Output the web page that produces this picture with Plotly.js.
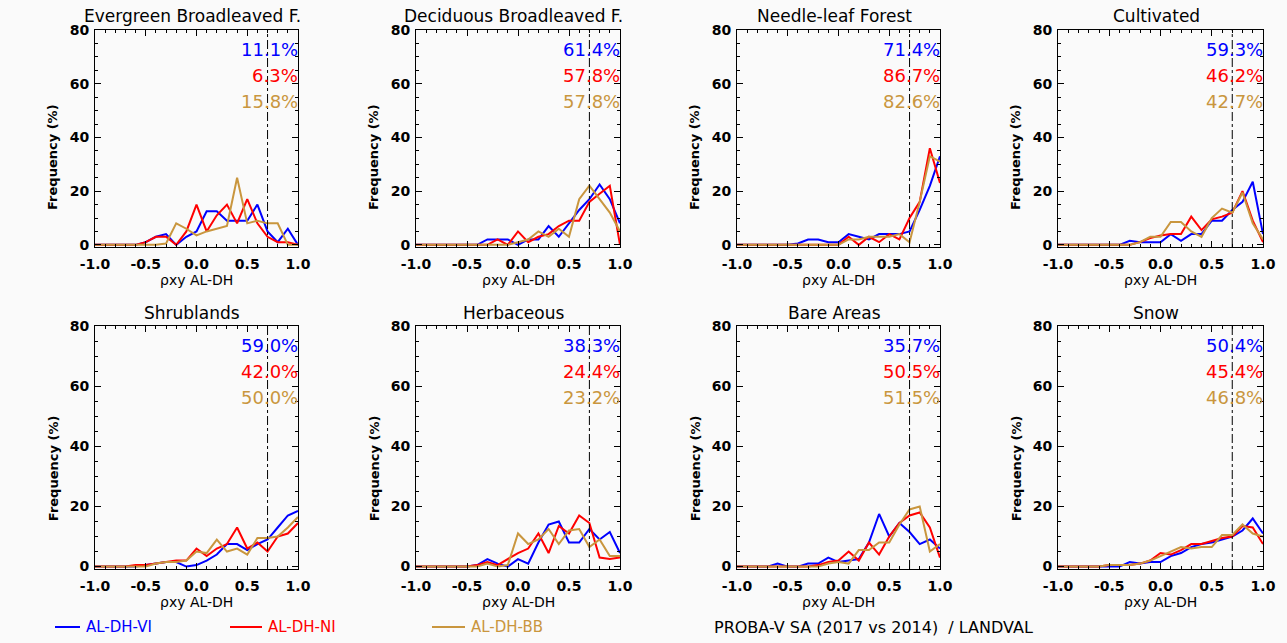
<!DOCTYPE html>
<html><head><meta charset="utf-8">
<script src="https://cdn.plot.ly/plotly-3.0.1.min.js"></script>
<style>html,body{margin:0;padding:0;background:#fafafa;}</style>
</head><body><div id="chart" style="width:1287px;height:643px;"></div>
<script>
// bin centres of the correlation histogram (rho xy AL-DH)
const rhoBins = [-1.0,-0.9,-0.8,-0.7,-0.6,-0.5,-0.4,-0.3,-0.2,-0.1,0.0,0.1,0.2,0.3,0.4,0.5,0.6,0.7,0.8,0.9,1.0];
const threshold = 0.7;
const panelTitles = ["Evergreen Broadleaved F.","Deciduous Broadleaved F.","Needle-leaf Forest","Cultivated","Shrublands","Herbaceous","Bare Areas","Snow"];
const seriesNames = ["AL-DH-VI","AL-DH-NI","AL-DH-BB"];
const seriesColors = ["#0000ff","#ff0000","#c9963e"];
const xTickVals = [-1.0,-0.5,0.0,0.5,1.0];
const xTickText = ["-1.0","-0.5","0.0","0.5","1.0"];
const yTickVals = [0,20,40,60,80];
const yTickText = ["0","20","40","60","80"];

// frequency (%) per panel, AL-DH-VI
const freqVI = [
 [0,0,0,0,0,1,3,4,0,3,5,12.5,12.5,9,9,9,15,5,1,6,0],
 [0,0,0,0,0,0,0,2,2,2,0,2,2,7,3,8,13,17,22.5,17,8],
 [0,0,0,0,0,0,0.5,2,2,1,1,4,3,2,4,4,4,5,13,22,33],
 [0,0,0,0,0,0,0,1.5,1,1,1,4,1.5,4,4,9,9,13,16,23.5,4],
 [0,0,0,0,0,0.5,1,1.5,1.5,0,0.5,2,4,7.5,7.5,5.5,7.5,9,13,17,18.5],
 [0,0,0,0,0,0,0.5,2.5,1,0,2.5,1,8,14,15,8,8,12.5,9,11.5,4.5],
 [0,0,0,0,1,0,0,1,1,3,1.5,2,2.5,8,17.5,10,14.5,11.5,7.5,9,6],
 [0,0,0,0,0,0,0,1.5,1,1.5,1.5,3.5,4.5,6.5,7.5,8,9,10,12,16,11]
];
// AL-DH-NI
const freqNI = [
 [0,0,0,0,0,1,3,3,0,5,15,5,11,15,8,17,8,3,1,1,0],
 [0,0,0,0,0,0,0,0,2,0,5,1,3,4,7,9,9,16,19,22,0],
 [0,0,0,0,0,0,0,0,0,0,0,3,0,3,1,4,2,10,16,36,23],
 [0,0,0,0,0,0,0,0,1,2.5,3.5,4,4,10.5,5.5,9.5,10.5,12,20,9,1],
 [0,0,0,0,0.5,0.5,1,1.5,2,2,6,3.5,6,7.5,13,6,8,5,10,11,14.5],
 [0,0,0,0,0,0,0.5,1.5,0.5,2.5,4.5,6,11,4.5,13.5,11,17,14.5,3,2.5,3],
 [0,0,0,0,0,0,0,0,0.5,1.5,2,5,2,8,4,10,14.5,17,18,13,3],
 [0,0,0,0,0,0.5,0.5,0.5,1,2,4.5,4,5.5,7.5,7.5,8.5,9.5,10,13.5,13,7.5]
];
// AL-DH-BB
const freqBB = [
 [0,0,0,0,0,0,0,0.5,8,6,3.5,5,6,7,25,8,9,8,8,0,0],
 [0,0,0,0,0,0,0,0,0,0,1,2,5,3,6,3,17,22,17,12,5],
 [0,0,0,0,0,0,0,0,0,0,0,2,2,3,3,3,4,1,16,33,31],
 [0,0,0,0,0,0,0,0,1,3,3,8.5,8.5,5,3,10,13.5,12,19.5,8,2],
 [0,0,0,0,0,0,1,1.5,1.5,2,5,4.5,9,5,6,4,9.5,9.5,10,13,16.5],
 [0,0,0,0,0,0,0,1,0,0.5,11,7.5,9,12.5,7.5,12,12.5,6.5,9,3.5,3.5],
 [0,0,0,0,0,0,0,0,0,1,1.5,1,5.5,5.5,8,8,14,19,20,5,7.5],
 [0,0,0,0,0,0.5,0.5,0.5,1,2,3.5,5,6.5,6,6.5,6.5,10.5,10.5,14,11,10]
];
const pctVI = ["11.1%","61.4%","71.4%","59.3%","59.0%","38.3%","35.7%","50.4%"];
const pctNI = ["6.3%","57.8%","86.7%","46.2%","42.0%","24.4%","50.5%","45.4%"];
const pctBB = ["15.8%","57.8%","82.6%","42.7%","50.0%","23.2%","51.5%","46.8%"];

const W = 1287, H = 643;
const colPx = [[95,298],[416,620],[737,940],[1058,1263]];
const rowPx = [[30,247],[326,569]];
const titleShift = [14, 13];
const FONT = "DejaVu Sans";

const allFreq = [freqVI, freqNI, freqBB];
const allPct = [pctVI, pctNI, pctBB];
const traces = [];
const layout = {
  width: W, height: H,
  margin: {l:0,r:0,t:0,b:0},
  paper_bgcolor: "#fafafa", plot_bgcolor: "#fafafa",
  showlegend: false,
  font: {family: FONT, color: "#000"},
  annotations: [], shapes: []
};

for (let p = 0; p < 8; p++) {
  const r = Math.floor(p / 4), c = p % 4;
  const sfx = p === 0 ? "" : String(p + 1);
  const xa = "x" + sfx, ya = "y" + sfx;
  for (let s = 0; s < 3; s++) {
    traces.push({
      x: rhoBins, y: allFreq[s][p], type: "scatter", mode: "lines",
      xaxis: xa, yaxis: ya, name: seriesNames[s],
      line: {color: seriesColors[s], width: 2}, hoverinfo: "skip"
    });
  }
  const common = {
    showline: true, linecolor: "#000", linewidth: 1, mirror: "allticks",
    ticks: "inside", ticklen: 6, tickcolor: "#000", tickwidth: 1,
    showgrid: false, zeroline: false, fixedrange: true,
    tickfont: {family: FONT, size: 14, weight: "bold", color: "#000"}
  };
  layout["xaxis" + sfx] = Object.assign({}, common, {
    domain: [colPx[c][0] / W, colPx[c][1] / W], anchor: ya,
    range: [-1, 1], tickvals: xTickVals, ticktext: xTickText,
    minor: {ticks: "inside", dtick: 0.1, ticklen: 3, tickcolor: "#000"},
    ticklabelstandoff: 4
  });
  layout["yaxis" + sfx] = Object.assign({}, common, {
    domain: [1 - rowPx[r][1] / H, 1 - rowPx[r][0] / H], anchor: xa,
    range: [-0.8, 80], tickvals: yTickVals, ticktext: yTickText,
    minor: {ticks: "inside", tickvals: [5,10,15,25,30,35,45,50,55,65,70,75], ticklen: 3, tickcolor: "#000"},
    ticklabelstandoff: 2
  });
  // threshold line
  layout.shapes.push({type: "line", xref: xa, yref: ya + " domain", x0: threshold, x1: threshold, y0: 0, y1: 1,
    line: {color: "#000", width: 1, dash: "dashdot"}});
  // panel title
  layout.annotations.push({text: panelTitles[p], xref: xa + " domain", yref: ya + " domain", x: 0.48, y: 1,
    yshift: titleShift[r], xanchor: "center", yanchor: "middle", showarrow: false,
    font: {family: FONT, size: 17, color: "#000"}});
  // axis titles
  layout.annotations.push({text: "Frequency (%)", xref: xa + " domain", yref: ya + " domain", x: 0, y: 0.415,
    xshift: -42, textangle: -90, xanchor: "center", yanchor: "middle", showarrow: false,
    font: {family: FONT, size: 13, weight: "bold", color: "#000"}});
  layout.annotations.push({text: "ρxy AL-DH", xref: xa + " domain", yref: ya + " domain", x: 0.5, y: 0,
    yshift: -33, xanchor: "center", yanchor: "middle", showarrow: false,
    font: {family: FONT, size: 14, color: "#000"}});
  // percentages
  const shifts = [-19, -45, -71];
  for (let s = 0; s < 3; s++) {
    layout.annotations.push({text: allPct[s][p], xref: xa + " domain", yref: ya + " domain", x: 1, y: 1,
      xshift: 2, yshift: shifts[s], xanchor: "right", yanchor: "middle", showarrow: false,
      font: {family: FONT, size: 18, color: seriesColors[s]}});
  }
}

// legend (bottom)
const legX = [[55, 80], [230, 262], [432, 465]];
const legY = 1 - 627 / H;
for (let s = 0; s < 3; s++) {
  layout.shapes.push({type: "line", xref: "paper", yref: "paper",
    x0: legX[s][0] / W, x1: legX[s][1] / W, y0: legY, y1: legY,
    line: {color: seriesColors[s], width: 2}});
  layout.annotations.push({text: seriesNames[s], xref: "paper", yref: "paper",
    x: (legX[s][1] + 4) / W, y: legY, xanchor: "left", yanchor: "middle", showarrow: false,
    font: {family: FONT, size: 15, color: seriesColors[s]}});
}
layout.annotations.push({text: "PROBA-V SA (2017 vs 2014)  / LANDVAL", xref: "paper", yref: "paper",
  x: 712 / W, y: legY, xanchor: "left", yanchor: "middle", showarrow: false,
  font: {family: FONT, size: 16, color: "#000"}});

Plotly.newPlot("chart", traces, layout, {displayModeBar: false, staticPlot: true});
</script>
</body></html>
